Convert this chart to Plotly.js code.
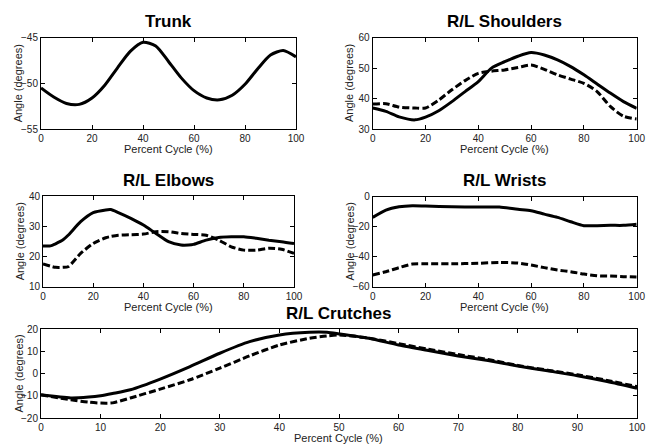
<!DOCTYPE html>
<html><head><meta charset="utf-8">
<script src="https://cdn.plot.ly/plotly-3.0.1.min.js"></script>
<style>html,body{margin:0;padding:0;background:#fff}#chart{width:646px;height:445px}</style>
</head><body><div id="chart"></div>
<script>
// ---- data ----
const trunkX = [0,5,10,15,20,25,30,35,40,45,50,55,60,65,70,75,80,85,90,95,100];
const trunkY = [-50.5,-51.5,-52.2,-52.3,-51.6,-50.2,-48.3,-46.5,-45.5,-45.9,-47.6,-49.4,-50.8,-51.6,-51.8,-51.3,-50.1,-48.4,-46.9,-46.4,-47.1];

const shX = [0,5,10,16,20,25,30,35,40,45,50,55,60,65,70,75,80,85,90,95,100];
const shR = [36.9,35.8,34.0,33.0,33.9,36.0,39.0,42.3,45.6,50.0,52.1,53.9,55.1,54.3,52.7,50.5,47.8,44.8,41.8,39.0,36.8];
const shL = [38.2,38.3,37.2,36.9,36.9,39.5,42.9,45.9,48.3,49.0,49.4,50.2,51.0,49.6,47.8,46.4,45.0,42.3,37.4,34.2,33.3];

const elX = [0,3,5,8,10,15,20,25,27,30,35,40,45,50,55,58,60,65,70,75,80,85,90,95,100];
const elR = [23.5,23.5,24.2,25.5,27.0,31.5,34.5,35.4,35.5,34.5,32.6,30.4,27.6,24.9,23.8,23.8,24.0,25.4,26.3,26.5,26.5,26.0,25.4,24.9,24.3];
const elL = [17.5,16.8,16.4,16.4,16.6,21.0,24.3,26.2,26.6,27.0,27.2,27.4,28.2,28.2,27.6,27.4,27.3,27.0,25.4,23.2,22.1,22.1,22.7,22.4,21.0];

const wrX = [0,5,10,15,20,30,40,48,55,60,65,70,75,80,85,90,95,100];
const wrR = [-13.8,-8.9,-6.7,-6.0,-6.2,-6.7,-6.9,-6.9,-8.4,-9.3,-11.6,-13.8,-16.7,-19.3,-19.3,-19.1,-19.1,-18.4];
const wrL = [-52.2,-50.0,-47.3,-44.9,-44.7,-44.7,-44.4,-43.8,-44.2,-45.6,-47.3,-48.9,-50.0,-51.6,-52.7,-52.9,-53.3,-53.6];

const crX = [0,5,8,10,12,15,20,25,30,35,40,45,48,50,55,60,65,70,75,80,85,90,95,100];
const crR = [-9.6,-11.0,-10.6,-10.0,-9.0,-7.3,-2.5,3.1,9.1,14.3,17.3,18.5,18.5,17.8,15.8,12.8,10.3,7.9,5.8,3.4,1.2,-1.0,-3.6,-6.6];
const crL = [-9.6,-11.8,-12.9,-13.3,-13.2,-11.0,-7.0,-2.8,2.4,7.9,12.8,15.8,16.9,17.3,15.9,13.4,10.9,8.5,6.3,3.6,1.5,-0.6,-3.1,-5.9];

const titles = ['Trunk','R/L Shoulders','R/L Elbows','R/L Wrists','R/L Crutches'];
const yRanges = [[-55,-45],[30,60],[10,40],[-60,0],[-20,20]];
const yDticks = [5,10,10,20,10];
const xDticks = [20,20,20,20,10];

// ---- layout ----
const W = 646, H = 445;
const boxes = [ // [x0,x1,yTop,yBottom] in px
  [41,296,37.7,129],
  [372.7,636.7,37.7,129],
  [43,294,196,286.7],
  [372.7,636.7,196.7,286.7],
  [41,637,329,418]
];
const solid = {color:'#000', width:3};
const dashed = {color:'#000', width:3, dash:'7px,3px'};
const series = [
  [[trunkX,trunkY,solid]],
  [[shX,shR,solid],[shX,shL,dashed]],
  [[elX,elR,solid],[elX,elL,dashed]],
  [[wrX,wrR,solid],[wrX,wrL,dashed]],
  [[crX,crR,solid],[crX,crL,dashed]]
];
const data = [];
const layout = {width:W,height:H,margin:{l:0,r:0,t:0,b:0},showlegend:false,
  paper_bgcolor:'#fff',plot_bgcolor:'#fff',annotations:[],
  font:{family:'Liberation Sans, Arial, sans-serif'}};
const tickFont = {family:'Liberation Sans, Arial, sans-serif', size:10, color:'#222'};
const labFont = {family:'Liberation Sans, Arial, sans-serif', size:11, color:'#222'};
boxes.forEach((b,i)=>{
  const n = i===0?'':String(i+1);
  series[i].forEach(s=>data.push({x:s[0],y:s[1],type:'scatter',mode:'lines',line:Object.assign({shape:'spline',smoothing:0.7},s[2]),xaxis:'x'+n,yaxis:'y'+n,hoverinfo:'skip'}));
  const common = {showline:true,linecolor:'#000',linewidth:1,mirror:'ticks',ticks:'inside',ticklen:4,tickcolor:'#000',showgrid:false,zeroline:false,tickfont:tickFont,fixedrange:true};
  layout['xaxis'+n] = Object.assign({},common,{domain:[b[0]/W,b[1]/W],range:[0,100],dtick:xDticks[i],tick0:0,anchor:'y'+n});
  layout['yaxis'+n] = Object.assign({},common,{domain:[1-b[3]/H,1-b[2]/H],range:yRanges[i],dtick:yDticks[i],tick0:0,anchor:'x'+n});
  const cx = (b[0]+b[1])/2;
  layout.annotations.push({text:titles[i],xref:'paper',yref:'paper',x:cx/W,y:1-(b[2]-16)/H,xanchor:'center',yanchor:'middle',showarrow:false,font:{family:'Liberation Sans, Arial, sans-serif',size:17,color:'#000',weight:'bold'}});
  layout.annotations.push({text:'Percent Cycle (%)',xref:'paper',yref:'paper',x:cx/W,y:1-(b[3]+20)/H,xanchor:'center',yanchor:'middle',showarrow:false,font:labFont});
  layout.annotations.push({text:'Angle (degrees)',xref:'paper',yref:'paper',x:(b[0]-23)/W,y:1-((b[2]+b[3])/2)/H,xanchor:'center',yanchor:'middle',textangle:-90,showarrow:false,font:labFont});
});
Plotly.newPlot('chart',data,layout,{displayModeBar:false,staticPlot:true});
</script></body></html>
